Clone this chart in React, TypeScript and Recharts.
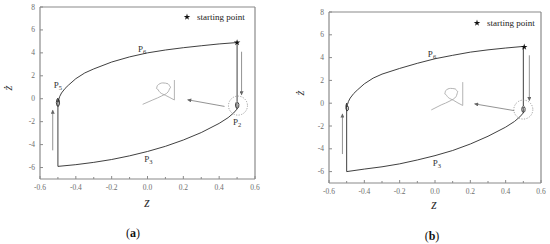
import { ComposedChart, Line, XAxis, YAxis, ReferenceLine, ReferenceDot, Scatter, Symbols } from 'recharts';

// axis ticks
const xTicks = [-0.6, -0.5, -0.4, -0.3, -0.2, -0.1, 0, 0.1, 0.2, 0.3, 0.4, 0.5, 0.6];
const yTicks = [-6, -4, -2, 0, 2, 4, 6, 8];

// panel (a) trajectory pieces [z, zdot]
const rightDropA = [[0.5, 4.9], [0.5, -0.25], [0.494, -0.35], [0.491, -0.55], [0.494, -0.78], [0.502, -0.85], [0.509, -0.72], [0.51, -0.48], [0.505, -0.32], [0.499, -0.4], [0.5, -0.9]];
const lowerBranchA = [[0.48, -1.25], [0.45, -1.65], [0.4, -2.15], [0.3, -2.95], [0.2, -3.6], [0.1, -4.15], [0, -4.6], [-0.1, -4.98], [-0.2, -5.3], [-0.3, -5.55], [-0.4, -5.75], [-0.5, -5.9]];
const leftRiseA = [[-0.5, 0.05], [-0.506, -0.08], [-0.509, -0.35], [-0.505, -0.62], [-0.497, -0.66], [-0.491, -0.45], [-0.492, -0.15], [-0.498, -0.02], [-0.5, -0.3]];
const upperBranchA = [[-0.495, -0.05], [-0.49, 0.2], [-0.48, 0.5], [-0.46, 0.9], [-0.44, 1.2], [-0.4, 1.75], [-0.35, 2.25], [-0.3, 2.6], [-0.2, 3.2], [-0.1, 3.65], [0, 4.0], [0.1, 4.25], [0.2, 4.45], [0.3, 4.62], [0.4, 4.78], [0.5, 4.9]];
const insetLoopA = [[-0.027, -0.49], [0.03, -0.1], [0.08, 0.25], [0.115, 0.6], [0.13, 1.0], [0.115, 1.3], [0.085, 1.38], [0.055, 1.15], [0.05, 0.9], [0.07, 0.55], [0.1, 0.3], [0.125, 0.1], [0.15, -0.11]];
const insetStemA = [[0.15, -0.11], [0.15, 1.63]];
const arrowsA = [
  [[0.43, -0.67], [0.224, -0.09]],
  [[0.525, 4.1], [0.525, 0.33]],
  [[-0.529, -4.5], [-0.529, -1.0]],
];

// panel (b) trajectory pieces
const rightDropB = [[0.5, 4.98], [0.5, -0.25], [0.494, -0.33], [0.491, -0.55], [0.494, -0.75], [0.502, -0.82], [0.509, -0.7], [0.51, -0.45], [0.505, -0.3], [0.499, -0.38], [0.5, -0.85]];
const lowerBranchB = [[0.48, -1.2], [0.45, -1.6], [0.4, -2.1], [0.3, -2.9], [0.2, -3.58], [0.1, -4.15], [0, -4.6], [-0.1, -4.98], [-0.2, -5.32], [-0.3, -5.58], [-0.4, -5.78], [-0.5, -6.0]];
const leftRiseB = [[-0.5, 0.0], [-0.504, -0.2], [-0.504, -0.5], [-0.498, -0.68], [-0.491, -0.6], [-0.49, -0.35], [-0.496, -0.22], [-0.5, -0.35]];
const upperBranchB = [[-0.495, -0.1], [-0.49, 0.15], [-0.48, 0.45], [-0.46, 0.85], [-0.44, 1.15], [-0.4, 1.7], [-0.35, 2.2], [-0.3, 2.55], [-0.2, 3.05], [-0.1, 3.5], [0, 3.9], [0.1, 4.2], [0.2, 4.48], [0.3, 4.68], [0.4, 4.84], [0.5, 4.98]];
const insetLoopB = [[-0.021, -0.59], [0.035, -0.15], [0.085, 0.2], [0.12, 0.6], [0.13, 1.0], [0.115, 1.25], [0.087, 1.3], [0.06, 1.1], [0.055, 0.82], [0.075, 0.5], [0.105, 0.25], [0.13, 0.02], [0.157, -0.2]];
const insetStemB = [[0.157, -0.2], [0.157, 1.85]];
const arrowsB = [
  [[0.448, -0.65], [0.224, -0.06]],
  [[0.534, 4.2], [0.534, 0.23]],
  [[-0.524, -4.46], [-0.524, -0.94]],
];

const AXIS = '#8a8a8a';
const SERIF = '"Liberation Serif", "DejaVu Serif", serif';

const pts = (arr: number[][]) => arr.map(([x, y]) => ({ x, y }));

const XTick = (props: any) => {
  const { x, y, payload } = props;
  const v = payload.value;
  const major = Math.abs(Math.round(v * 10)) % 2 === 0;
  return (
    <g>
      <line x1={x} x2={x} y1={y} y2={y - (major ? 3 : 2)} stroke={AXIS} strokeWidth={1} />
      {major && (
        <text x={x} y={y + 11} textAnchor="middle" fontSize={7.5} fill="#6e6e6e" fontFamily={SERIF}>
          {v.toFixed(1)}
        </text>
      )}
    </g>
  );
};

const YTick = (props: any) => {
  const { x, y, payload } = props;
  return (
    <g>
      <line x1={x} x2={x + 3} y1={y} y2={y} stroke={AXIS} strokeWidth={1} />
      <text x={x - 5} y={y + 2.5} textAnchor="end" fontSize={7.5} fill="#6e6e6e" fontFamily={SERIF}>
        {payload.value}
      </text>
    </g>
  );
};

const pLabel = (sub: string) => (props: any) => (
  <text x={props.cx} y={props.cy} textAnchor="middle" fontSize={9} fill="#333" fontFamily={SERIF}>
    P<tspan dy={2} fontSize={6.5}>{sub}</tspan>
  </text>
);

type PanelCfg = {
  left: number;
  top: number;
  right: number;
  bottom: number;
  yAxisWidth: number;
  traj: number[][];
  loop: number[][];
  stem: number[][];
  arrows: number[][][];
  circle: number[];
  star: number[];
  labels: { x: number; y: number; sub: string }[];
  legend: { x: number; y: number };
  zLabel: { x: number; y: number };
  zdLabel: { x: number; y: number };
  caption: { x: number; y: number; text: string };
};

function Panel({ cfg }: { cfg: PanelCfg }) {
  return (
    <div style={{ position: 'absolute', left: cfg.left, top: 0, width: 275, height: 244 }}>
      <ComposedChart
        width={275}
        height={244}
        margin={{ top: cfg.top, right: cfg.right, bottom: cfg.bottom, left: 0 }}
      >
        <XAxis
          type="number"
          dataKey="x"
          domain={[-0.6, 0.6]}
          ticks={xTicks}
          interval={0}
          tick={(p: any) => <XTick {...p} />}
          tickSize={0}
          tickMargin={0}
          height={20}
          stroke={AXIS}
          strokeWidth={1.2}
          allowDataOverflow
        />
        <YAxis
          type="number"
          dataKey="y"
          domain={[-7, 8]}
          ticks={yTicks}
          interval={0}
          tick={(p: any) => <YTick {...p} />}
          tickSize={0}
          tickMargin={0}
          width={cfg.yAxisWidth}
          stroke={AXIS}
          strokeWidth={1.2}
          allowDataOverflow
        />
        <ReferenceLine y={8} stroke={AXIS} strokeWidth={1.2} />
        <ReferenceLine x={0.6} stroke={AXIS} strokeWidth={1.2} />
        <Line data={pts(cfg.stem)} dataKey="y" type="linear" stroke="#aaa" strokeWidth={0.9} dot={false} activeDot={false} isAnimationActive={false} />
        <Line data={pts(cfg.loop)} dataKey="y" type="monotone" stroke="#aaa" strokeWidth={0.9} dot={false} activeDot={false} isAnimationActive={false} />
        {cfg.arrows.map((a, i) => (
          <Line
            key={i}
            data={pts(a)}
            dataKey="y"
            type="linear"
            stroke="#777"
            strokeWidth={0.8}
            dot={false}
            activeDot={false}
            markerEnd="url(#arrowHead)"
            isAnimationActive={false}
          />
        ))}
        <Line data={pts(cfg.traj)} dataKey="y" type="linear" stroke="#2a2a2a" strokeWidth={0.9} dot={false} activeDot={false} isAnimationActive={false} />
        <ReferenceDot x={cfg.circle[0]} y={cfg.circle[1]} r={9.5} fill="none" stroke="#888" strokeWidth={0.8} strokeDasharray="1.2 1.4" />
        <Scatter
          data={[{ x: cfg.star[0], y: cfg.star[1] }]}
          isAnimationActive={false}
          shape={(p: any) => <Symbols cx={p.cx} cy={p.cy} type="star" size={13} fill="#111" />}
        />
        {cfg.labels.map((l) => (
          <ReferenceDot key={l.sub} x={l.x} y={l.y} r={0} shape={pLabel(l.sub)} />
        ))}
      </ComposedChart>
      <div style={{ position: 'absolute', left: cfg.legend.x, top: cfg.legend.y, display: 'flex', alignItems: 'center', fontFamily: SERIF, fontSize: 9, color: '#222', whiteSpace: 'nowrap' }}>
        <svg width={8} height={8} style={{ marginRight: 6 }}>
          <Symbols cx={4} cy={4} type="star" size={13} fill="#111" />
        </svg>
        <span>starting point</span>
      </div>
      <div style={{ position: 'absolute', left: cfg.zLabel.x - 10, top: cfg.zLabel.y - 9, width: 20, textAlign: 'center', fontFamily: SERIF, fontStyle: 'italic', fontSize: 14, lineHeight: '18px', color: '#333' }}>
        z
      </div>
      <div style={{ position: 'absolute', left: cfg.zdLabel.x - 10, top: cfg.zdLabel.y - 9, width: 20, textAlign: 'center', fontFamily: SERIF, fontStyle: 'italic', fontSize: 13, lineHeight: '18px', color: '#333', transform: 'rotate(-90deg)' }}>
        ż
      </div>
      <div style={{ position: 'absolute', left: cfg.caption.x - 15, top: cfg.caption.y - 8, width: 30, textAlign: 'center', fontFamily: SERIF, fontSize: 12, lineHeight: '16px', color: '#111' }}>
        (<b>{cfg.caption.text}</b>)
      </div>
    </div>
  );
}

const panelA: PanelCfg = {
  left: 0,
  top: 7,
  right: 20,
  bottom: 45,
  yAxisWidth: 40,
  traj: [...rightDropA, ...lowerBranchA, ...leftRiseA, ...upperBranchA],
  loop: insetLoopA,
  stem: insetStemA,
  arrows: arrowsA,
  circle: [0.505, -0.6],
  star: [0.5, 4.9],
  labels: [
    { x: -0.03, y: 4.1, sub: '6' },
    { x: -0.5, y: 0.9, sub: '5' },
    { x: 0.5, y: -2.25, sub: '2' },
    { x: 0.005, y: -5.5, sub: '3' },
  ],
  legend: { x: 183, y: 12 },
  zLabel: { x: 147, y: 203 },
  zdLabel: { x: 8, y: 88 },
  caption: { x: 133, y: 233, text: 'a' },
};

const panelB: PanelCfg = {
  left: 275,
  top: 12,
  right: 9,
  bottom: 41,
  yAxisWidth: 54,
  traj: [...rightDropB, ...lowerBranchB, ...leftRiseB, ...upperBranchB],
  loop: insetLoopB,
  stem: insetStemB,
  arrows: arrowsB,
  circle: [0.5, -0.56],
  star: [0.505, 4.93],
  labels: [
    { x: -0.017, y: 4.05, sub: '6' },
    { x: 0.011, y: -5.5, sub: '3' },
  ],
  legend: { x: 198, y: 18 },
  zLabel: { x: 159, y: 205 },
  zdLabel: { x: 25, y: 93 },
  caption: { x: 157, y: 236, text: 'b' },
};

export default function App() {
  return (
    <div style={{ position: 'absolute', left: 0, top: 0, width: 550, height: 244, background: '#fff', overflow: 'hidden' }}>
      <svg width={0} height={0} style={{ position: 'absolute' }}>
        <defs>
          <marker id="arrowHead" viewBox="0 0 10 10" refX="9" refY="5" markerWidth="6" markerHeight="4" orient="auto" markerUnits="userSpaceOnUse">
            <path d="M0,0 L10,5 L0,10 z" fill="#666" />
          </marker>
        </defs>
      </svg>
      <Panel cfg={panelA} />
      <Panel cfg={panelB} />
    </div>
  );
}
